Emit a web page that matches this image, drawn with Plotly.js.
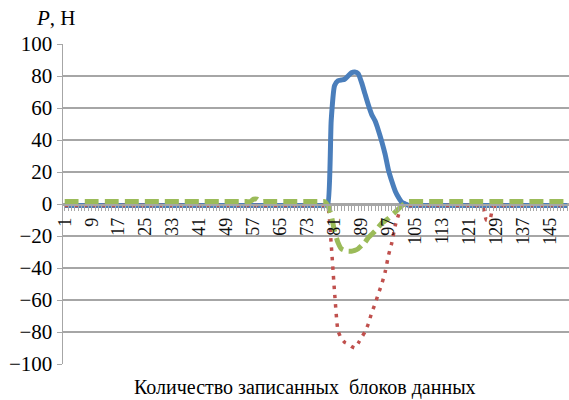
<!DOCTYPE html>
<html><head><meta charset="utf-8">
<script src="https://cdn.plot.ly/plotly-3.0.1.min.js"></script>
<style>html,body{margin:0;padding:0;background:#fff}</style>
</head><body><div id="chart"></div>
<script>
const blocks = [
  1,2,3,4,5,6,7,8,9,10,11,12,13,14,15,16,17,18,19,20,
  21,22,23,24,25,26,27,28,29,30,31,32,33,34,35,36,37,38,39,40,
  41,42,43,44,45,46,47,48,49,50,51,52,53,54,55,56,57,58,59,60,
  61,62,63,64,65,66,67,68,69,70,71,72,73,74,75,76,77,78,79,80,
  81,82,83,84,85,86,87,88,89,90,91,92,93,94,95,96,97,98,99,100,
  101,102,103,104,105,106,107,108,109,110,111,112,113,114,115,116,117,118,119,120,
  121,122,123,124,125,126,127,128,129,130,131,132,133,134,135,136,137,138,139,140,
  141,142,143,144,145,146,147,148,149,150
];
const blueSeries = [
  -1,-1,-1,-1,-1,-1,-1,-1,-1,-1,
  -1,-1,-1,-1,-1,-1,-1,-1,-1,-1,
  -1,-1,-1,-1,-1,-1,-1,-1,-1,-1,
  -1,-1,-1,-1,-1,-1,-1,-1,-1,-1,
  -1,-1,-1,-1,-1,-1,-1,-1,-1,-1,
  -1,-1,-1,-1,-1,-1,-1,-1,-1,-1,
  -1,-1,-1,-1,-1,-1,-1,-1,-1,-1,
  -1,-1,-1,-1,-1,-1,-1,-1,0,52,
  74,77,77.5,78,80,82,82.5,81.5,76,69,
  62,56,52,46,39,31,21,14,8,4,
  1,0,-1,-1,-1,-1,-1,-1,-1,-1,
  -1,-1,-1,-1,-1,-1,-1,-1,-1,-1,
  -1,-1,-1,-1,-1,-1,-1,-1,-1,-1,
  -1,-1,-1,-1,-1,-1,-1,-1,-1,-1,
  -1,-1,-1,-1,-1,-1,-1,-1,-1,-1
];
const redSeries = [
  -1,-1,-1,-1,-1,-1,-1,-1,-1,-1,
  -1,-1,-1,-1,-1,-1,-1,-1,-1,-1,
  -1,-1,-1,-1,-1,-1,-1,-1,-1,-1,
  -1,-1,-1,-1,-1,-1,-1,-1,-1,-1,
  -1,-1,-1,-1,-1,-1,-1,-1,-1,-1,
  -1,-1,-1,-1,-1,-1,-1,-1,-1,-1,
  -1,-1,-1,-1,-1,-1,-1,-1,-1,-1,
  -1,-1,-1,-1,-1,-1,-1,-1,-2,-25,
  -55,-79,-84,-86.5,-87.5,-89,-90,-87,-83.5,-80,
  -75,-68,-62.5,-56,-50,-42.5,-32,-24,-13.5,-6.5,
  -1,-1,-1,-1,-1,-1,-1,-1,-1,-1,
  -1,-1,-1,-1,-1,-1,-1,-1,-1,-1,
  -1,-1,-1,-1,-2,-10,-10,-2,-1,-1,
  -1,-1,-1,-1,-1,-1,-1,-1,-1,-1,
  -1,-1,-1,-1,-1,-1,-1,-1,-1,-1
];
const greenSeries = [
  1.5,1.5,1.5,1.5,1.5,1.5,1.5,1.5,1.5,1.5,
  1.5,1.5,1.5,1.5,1.5,1.5,1.5,1.5,1.5,1.5,
  1.5,1.5,1.5,1.5,1.5,1.5,1.5,1.5,1.5,1.5,
  1.5,1.5,1.5,1.5,1.5,1.5,1.5,1.5,1.5,1.5,
  1.5,1.5,1.5,1.5,1.5,1.5,1.5,1.5,1.5,1.5,
  1.5,1.5,1.5,1.5,1.5,1.5,3,3,1.5,1.5,
  1.5,1.5,1.5,1.5,1.5,1.5,1.5,1.5,1.5,1.5,
  1.5,1.5,1.5,1.5,1.5,1.5,1.5,1.5,-1,-7,
  -17,-24,-28,-29,-29.5,-29.5,-29,-28,-26,-24,
  -21,-19,-17,-14.5,-12,-10.5,-9,-7,-5,-3,
  -1,0.5,1.5,1.5,1.5,1.5,1.5,1.5,1.5,1.5,
  1.5,1.5,1.5,1.5,1.5,1.5,1.5,1.5,1.5,1.5,
  1.5,1.5,1.5,1.5,1.5,1.5,1.5,1.5,1.5,1.5,
  1.5,1.5,1.5,1.5,1.5,1.5,1.5,1.5,1.5,1.5,
  1.5,1.5,1.5,1.5,1.5,1.5,1.5,1.5,1.5,1.5
];
const xTickValues = [1,9,17,25,33,41,49,57,65,73,81,89,97,105,113,121,129,137,145];
const xTickLabels = ['1','9','17','25','33','41','49','57','65','73','81','89','97','105','113','121','129','137','145'];
const yTickValues = [-100,-80,-60,-40,-20,0,20,40,60,80,100];

const serif = 'Liberation Serif';
const gridCol = '#a6a6a6';

const traces = [
  {x: blocks, y: blueSeries, type: 'scatter', mode: 'lines',
   line: {color: '#4a7ebb', width: 5, shape: 'spline', smoothing: 0.5}, showlegend: false, hoverinfo: 'skip'},
  {x: blocks, y: redSeries, type: 'scatter', mode: 'lines',
   line: {color: '#c0504d', width: 3.5, dash: '3.5px,6px', shape: 'spline', smoothing: 0.5}, showlegend: false, hoverinfo: 'skip'},
  {x: blocks, y: greenSeries, type: 'scatter', mode: 'lines',
   line: {color: '#9bbb59', width: 5, dash: '14px,6px', shape: 'spline', smoothing: 0.5}, showlegend: false, hoverinfo: 'skip'}
];

const layout = {
  width: 569, height: 400,
  margin: {l: 63, r: 0, t: 44, b: 36, pad: 0},
  paper_bgcolor: '#fff', plot_bgcolor: '#fff',
  showlegend: false,
  font: {family: serif, size: 18, color: '#000'},
  xaxis: {
    range: [0.5, 150.5], anchor: 'free', position: 0.5,
    tickmode: 'array', tickvals: xTickValues, ticktext: xTickLabels,
    tickangle: -90, ticks: 'outside', ticklen: 5, tickcolor: gridCol, tickwidth: 1,
    minor: {tickmode: 'linear', tick0: 1, dtick: 1, ticks: 'outside', ticklen: 5, tickcolor: gridCol, tickwidth: 1, showgrid: false},
    showgrid: false, zeroline: false,
    showline: true, linecolor: gridCol, linewidth: 1.5,
    tickfont: {family: serif, size: 18, color: '#111'}
  },
  yaxis: {
    range: [-100, 100], tickmode: 'array', tickvals: yTickValues,
    ticks: 'outside', ticklen: 5, tickcolor: gridCol, tickwidth: 1,
    showgrid: true, gridcolor: gridCol, gridwidth: 1.5,
    zeroline: false, showline: true, linecolor: gridCol, linewidth: 1.5,
    tickfont: {family: serif, size: 21, color: '#000'}
  },
  annotations: [
    {text: '<i>P</i>, Н', xref: 'paper', yref: 'paper', x: -0.058, y: 1.08,
     xanchor: 'left', yanchor: 'middle', showarrow: false,
     font: {family: serif, size: 21, color: '#000'}},
    {text: 'Количество записанных\u00a0 блоков данных', xref: 'paper', yref: 'paper', x: 0.478, y: -0.072,
     xanchor: 'center', yanchor: 'middle', showarrow: false,
     font: {family: serif, size: 20, color: '#000'}}
  ]
};

Plotly.newPlot('chart', traces, layout, {staticPlot: true, displayModeBar: false});
</script>
</body></html>
